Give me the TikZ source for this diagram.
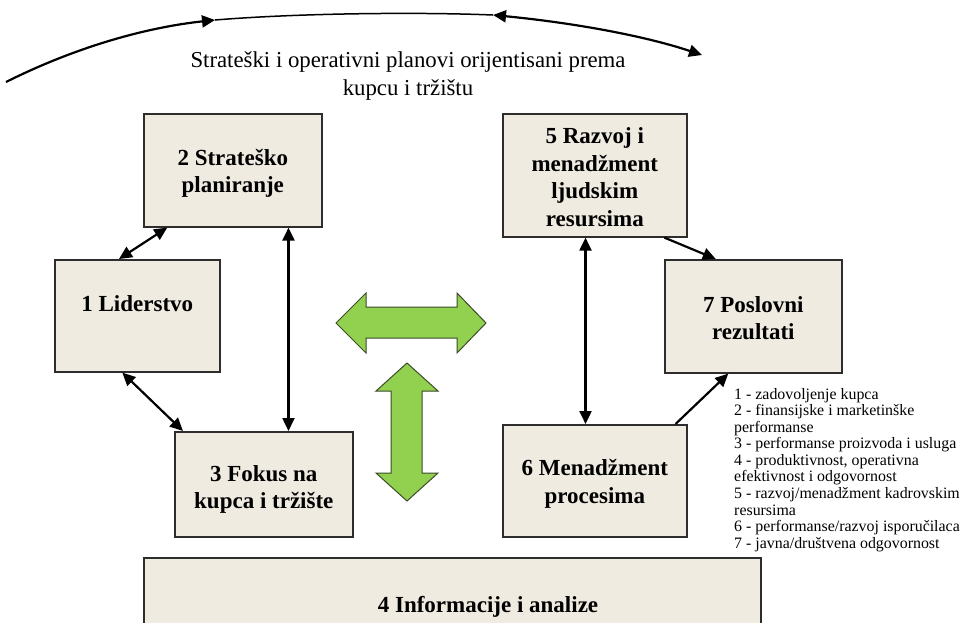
\documentclass[tikz,border=0pt]{standalone}
\usepackage{fontspec}
\setmainfont{Liberation Serif}
\usetikzlibrary{arrows.meta,calc}
\definecolor{boxfill}{RGB}{240,235,225}
\definecolor{boxline}{RGB}{45,45,45}
\definecolor{leafgreen}{RGB}{146,208,80}
\definecolor{leafedge}{RGB}{60,75,40}
\begin{document}
\begin{tikzpicture}[x=1pt,y=-1pt,
  block/.style={draw=boxline, line width=1.6pt, fill=boxfill, inner sep=0pt, anchor=north west},
  blocktext/.style={font=\fontsize{23}{27.5}\selectfont\bfseries, align=center, inner sep=0pt},
  headtext/.style={font=\fontsize{22.8}{28}\selectfont, align=center, inner sep=0pt},
  legendtext/.style={font=\fontsize{15.9}{16.55}\selectfont, align=left, inner sep=0pt, anchor=north west},
  twoway/.style={line width=2.2pt, {Triangle[length=13pt,width=12pt]}-{Triangle[length=13pt,width=12pt]}},
  oneway/.style={line width=2.2pt, -{Triangle[length=13pt,width=12pt]}},
  bigarrow/.style={fill=leafgreen, draw=leafedge, line width=1pt, line join=miter}
]
\useasboundingbox (0,0) rectangle (965,622);

% arc over the top
\draw[line width=2.2pt, -{Triangle[length=13pt,width=12pt]}]
  (6,82) .. controls (80,45) and (150,27) .. (215,20);
\draw[line width=1.5pt] (215,20) .. controls (300,13) and (420,12) .. (493,15);
\draw[line width=2.2pt, {Triangle[length=13pt,width=12pt]}-{Triangle[length=13pt,width=12pt]}]
  (493,15) .. controls (575,23) and (645,36) .. (702,55);

\node[headtext] (head) at (408,76)
  {Strateški i operativni planovi orijentisani prema\\kupcu i tržištu};

% the seven blocks
\node[block, minimum width=178pt, minimum height=113pt] (b2) at (143,113) {};
\node[block, minimum width=165pt, minimum height=112pt] (b1) at (54,259) {};
\node[block, minimum width=178pt, minimum height=105pt] (b3) at (174,431) {};
\node[block, minimum width=184pt, minimum height=123pt] (b5) at (502,113) {};
\node[block, minimum width=177pt, minimum height=113pt] (b7) at (664,259) {};
\node[block, minimum width=184pt, minimum height=112pt] (b6) at (502,424) {};
\node[block, minimum width=617pt, minimum height=80pt] (b4) at (143,557) {};

\node[blocktext] (t2) at ($(b2.center)+(0,3)$) {2 Strateško\\planiranje};
\node[blocktext] (t1) at ($(b1.center)+(0,-12)$) {1 Liderstvo};
\node[blocktext] (t3) at ($(b3.center)+(0,5)$) {3 Fokus na\\kupca i tržište};
\node[blocktext] (t5) at ($(b5.center)+(0,2)$) {5 Razvoj i\\menadžment\\ljudskim\\resursima};
\node[blocktext] (t7) at ($(b7.center)+(0,2)$) {7 Poslovni\\rezultati};
\node[blocktext] (t6) at ($(b6.center)+(0,3)$) {6 Menadžment\\procesima};
\node[blocktext] (t4) at (488,607) {4 Informacije i analize};

% connectors between blocks
\coordinate (p21) at ($(b2.south west)!0.135!(b2.south east)$);
\coordinate (q21) at ($(b1.north west)!0.39!(b1.north east)$);
\draw[twoway] (p21) -- (q21);
\coordinate (p23) at ($(b2.south west)!0.81!(b2.south east)$);
\draw[twoway] (p23) -- (p23 |- b3.north);
\coordinate (p13) at ($(b1.south west)!0.41!(b1.south east)$);
\coordinate (q13) at ($(b3.north west)!0.05!(b3.north east)$);
\draw[twoway] (p13) -- (q13);
\coordinate (p56) at ($(b5.south west)!0.45!(b5.south east)$);
\draw[twoway] (p56) -- (p56 |- b6.north);
\coordinate (p57) at ($(b5.south west)!0.875!(b5.south east)$);
\coordinate (q57) at ($(b7.north west)!0.29!(b7.north east)$);
\draw[oneway] (p57) -- (q57);
\coordinate (p67) at ($(b6.north west)!0.935!(b6.north east)$);
\coordinate (q67) at ($(b7.south west)!0.36!(b7.south east)$);
\draw[oneway] (p67) -- (q67);

% green two-headed arrows
\draw[bigarrow] (336,323) -- (366,293) -- (366,307) -- (457,307) -- (457,293)
  -- (486,323) -- (457,353) -- (457,338) -- (366,338) -- (366,353) -- cycle;
\draw[bigarrow] (407,363) -- (438,391) -- (422,391) -- (422,473) -- (438,473)
  -- (407,501) -- (376,473) -- (391,473) -- (391,391) -- (376,391) -- cycle;

% legend of the results
\node[legendtext] (legend) at (734,388)
  {1 - zadovoljenje kupca\\
   2 - finansijske i marketinške\\
   performanse\\
   3 - performanse proizvoda i usluga\\
   4 - produktivnost, operativna\\
   efektivnost i odgovornost\\
   5 - razvoj/menadžment kadrovskim\\
   resursima\\
   6 - performanse/razvoj isporučilaca\\
   7 - javna/društvena odgovornost};
\end{tikzpicture}
\end{document}
